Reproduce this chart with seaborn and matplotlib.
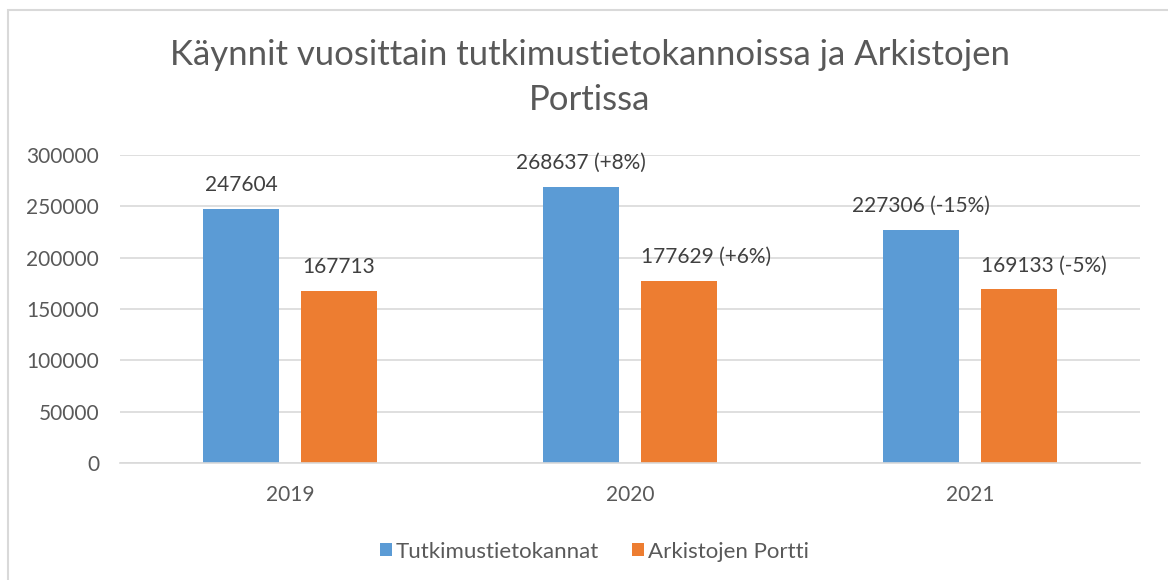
import pandas as pd
import numpy as np
import matplotlib.pyplot as plt
import seaborn as sns
from matplotlib.patches import Rectangle

years = ["2019", "2020", "2021"]
series = ["Tutkimustietokannat", "Arkistojen Portti"]
tutkimus = [247604, 268637, 227306]
portti = [167713, 177629, 169133]
tutkimus_labels = ["247604", "268637 (+8%)", "227306 (-15%)"]
portti_labels = ["167713", "177629 (+6%)", "169133 (-5%)"]
title_lines = ["Käynnit vuosittain tutkimustietokannoissa ja Arkistojen", "Portissa"]

df = pd.DataFrame({
    "year": years * 2,
    "series": [series[0]] * 3 + [series[1]] * 3,
    "value": tutkimus + portti,
})

sns.set_style("white")
plt.rcParams['font.family'] = ['Lato', 'DejaVu Sans']
text_col = "#595959"

fig = plt.figure(figsize=(11.68, 5.8), dpi=100)
ax = fig.add_axes([0.1027, 0.2017, 0.8733, 0.5313])

sns.barplot(data=df, x="year", y="value", hue="series", order=years, hue_order=series,
            palette=["#5B9BD5", "#ED7D31"], saturation=1, linewidth=0,
            width=0.576, gap=0.224, ax=ax, legend=True)

ax.set_ylim(0, 300000)
ax.set_xlim(-0.5, 2.5)
ax.set_yticks(np.arange(0, 300001, 50000))
ax.yaxis.grid(True, color="#D9D9D9", linewidth=1.2)
ax.set_axisbelow(True)
for s in ["top", "right", "left"]:
    ax.spines[s].set_visible(False)
ax.spines["bottom"].set_color("#D9D9D9")
ax.spines["bottom"].set_linewidth(1.2)
ax.tick_params(axis="both", length=0, labelsize=15, labelcolor=text_col)
ax.tick_params(axis="y", pad=15)
ax.tick_params(axis="x", pad=16)
ax.set_xlabel("")
ax.set_ylabel("")

# data labels: blue centred, orange with change left aligned to the bar
for cont, labels, series_i in zip(ax.containers, [tutkimus_labels, portti_labels], [0, 1]):
    for bar, lab in zip(cont, labels):
        x0 = bar.get_x()
        top = bar.get_height()
        if series_i == 1 and "(" in lab:
            ax.annotate(lab, (x0, top), xytext=(0, 10), textcoords="offset points",
                        ha="left", va="bottom", fontsize=15, color="#404040")
        else:
            ax.annotate(lab, (x0 + bar.get_width() / 2, top), xytext=(0, 10),
                        textcoords="offset points", ha="center", va="bottom",
                        fontsize=15, color="#404040")

leg = ax.legend(loc="upper center", bbox_to_anchor=(0.465, -0.19), ncol=2, frameon=False,
                fontsize=16, handlelength=0.55, handleheight=0.55, columnspacing=1.5,
                handletextpad=0.15)
for t in leg.get_texts():
    t.set_color(text_col)

fig.text(0.505, 1 - 55 / 580, title_lines[0], ha="center", va="center", fontsize=25, color=text_col)
fig.text(0.505, 1 - 100 / 580, title_lines[1], ha="center", va="center", fontsize=25, color=text_col)

fig.add_artist(Rectangle((0.0068, -0.05), 1.1, 0.9828 + 0.05, transform=fig.transFigure,
                         fill=False, edgecolor="#D9D9D9", linewidth=1.5))

plt.savefig("out.png", dpi=100)
